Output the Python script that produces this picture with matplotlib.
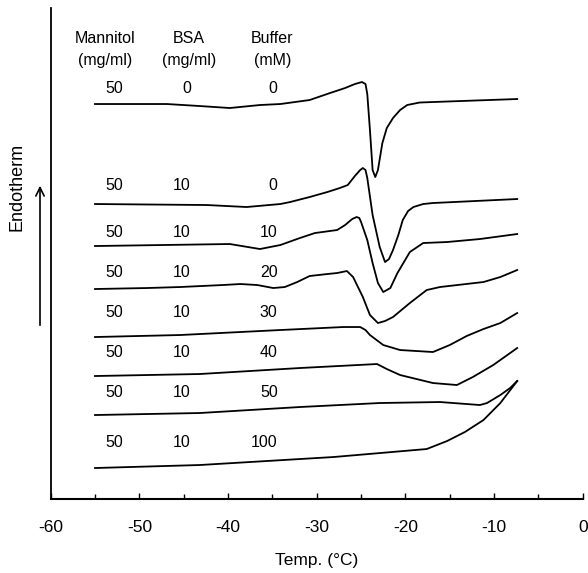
import matplotlib
matplotlib.use('Agg')
import matplotlib.pyplot as plt
from matplotlib.ticker import MultipleLocator

plt.rcParams['font.family'] = ['Liberation Sans', 'DejaVu Sans']
plt.rcParams['axes.unicode_minus'] = False

# Thermograms: temperature (°C) and heat flow (arbitrary units, stacked)
t1 = [-55.0, -46.9, -43.2, -39.8, -36.4, -34.1, -30.8, -28.5, -26.8, -25.7, -24.9, -24.5, -24.3,
      -24.0, -23.7, -23.4, -23.1, -22.6, -22.1, -21.4, -20.6, -19.8, -18.4, -16.9, -7.4]
h1 = [39.5, 39.5, 39.3, 39.1, 39.4, 39.5, 39.9, 40.6, 41.1, 41.5, 41.7, 41.5, 40.5,
      36.9, 32.9, 32.2, 32.9, 35.6, 37.1, 38.1, 38.9, 39.4, 39.65, 39.7, 40.0]

t2 = [-55.0, -42.4, -37.9, -34.1, -33.0, -30.8, -28.8, -27.4, -26.5, -25.7, -25.1, -24.8, -24.5, -24.3,
      -23.7, -22.9, -22.3, -21.85, -21.4, -20.8, -20.3, -19.7, -19.1, -18.0, -16.9, -7.4]
h2 = [29.5, 29.4, 29.2, 29.5, 29.7, 30.2, 30.7, 31.1, 31.4, 32.3, 32.9, 33.1, 32.9, 32.1,
      28.4, 25.2, 23.7, 24.0, 24.9, 26.4, 27.9, 28.8, 29.2, 29.5, 29.6, 30.0]

t3 = [-55.0, -39.8, -36.4, -34.1, -31.9, -30.2, -27.7, -26.8, -26.0, -25.5, -25.2, -25.0,
      -24.3, -23.7, -23.1, -22.5, -21.7, -20.9, -19.5, -18.0, -15.3, -11.6, -7.4]
h3 = [25.3, 25.5, 25.0, 25.4, 26.1, 26.6, 26.9, 27.4, 28.0, 28.2, 28.1, 27.7,
      25.9, 23.6, 21.6, 20.7, 21.1, 22.6, 24.7, 25.6, 25.7, 26.0, 26.5]

t4 = [-55.0, -49.1, -45.4, -40.6, -38.6, -36.7, -34.9, -33.6, -32.2, -30.8, -28.8, -27.7,
      -26.6, -25.9, -24.8, -24.0, -23.1, -22.3, -21.4, -19.5, -17.6, -16.1, -11.2, -9.3, -7.4]
h4 = [21.0, 21.1, 21.2, 21.4, 21.5, 21.4, 21.1, 21.2, 21.7, 22.3, 22.5, 22.6,
      22.8, 22.2, 20.2, 18.4, 17.6, 17.8, 18.2, 19.6, 20.9, 21.2, 21.7, 22.2, 22.9]

t5 = [-55.0, -45.4, -34.1, -27.0, -25.1, -24.5, -24.0, -22.5, -20.6, -16.9, -15.0, -13.1, -11.2, -9.3, -7.4]
h5 = [16.2, 16.4, 16.9, 17.2, 17.2, 16.9, 16.4, 15.4, 14.9, 14.7, 15.4, 16.3, 17.0, 17.6, 18.6]

t6 = [-55.0, -43.2, -31.9, -23.2, -22.1, -20.6, -16.9, -14.2, -12.4, -10.1, -7.4]
h6 = [12.3, 12.5, 13.1, 13.5, 13.0, 12.4, 11.6, 11.4, 12.2, 13.4, 15.1]

t7 = [-55.0, -43.2, -31.9, -22.9, -16.1, -11.6, -10.8, -9.3, -8.2, -7.4]
h7 = [8.4, 8.6, 9.2, 9.6, 9.7, 9.4, 9.6, 10.4, 11.1, 11.8]

t8 = [-55.0, -43.2, -28.1, -17.6, -15.3, -13.3, -11.2, -9.3, -7.4]
h8 = [3.1, 3.4, 4.2, 5.0, 5.8, 6.7, 7.9, 9.6, 11.8]

# sample composition for each curve (top to bottom)
mannitol = [50, 50, 50, 50, 50, 50, 50, 50]
bsa = [0, 10, 10, 10, 10, 10, 10, 10]
buffer = [0, 0, 10, 20, 30, 40, 50, 100]

curves = [(t1, h1), (t2, h2), (t3, h3), (t4, h4), (t5, h5), (t6, h6), (t7, h7), (t8, h8)]
label_y = [40.6, 30.9, 26.2, 22.2, 18.2, 14.2, 10.2, 5.2]

fig = plt.figure(figsize=(5.88, 5.73), dpi=100)
ax = fig.add_axes([0.0861, 0.1291, 0.9051, 0.8569])

for t, h in curves:
    ax.plot(t, h, color='black', linewidth=1.3, solid_joinstyle='round')

# column headers
for xc, head in [(-53.9, 'Mannitol\n(mg/ml)'), (-44.4, 'BSA\n(mg/ml)'), (-35.0, 'Buffer\n(mM)')]:
    ax.text(xc, 43.4, head, ha='center', va='baseline', fontsize=11.5, linespacing=1.6)

for i in range(len(mannitol)):
    ax.text(-51.8, label_y[i], str(mannitol[i]), ha='right', va='baseline', fontsize=11.5)
    ax.text(-44.2, label_y[i], str(bsa[i]), ha='right', va='baseline', fontsize=11.5)
    ax.text(-34.4, label_y[i], str(buffer[i]), ha='right', va='baseline', fontsize=11.5)

ax.set_xlim(-60, 0)
ax.set_ylim(0, 49.1)
ax.xaxis.set_major_locator(MultipleLocator(10))
ax.xaxis.set_minor_locator(MultipleLocator(5))
ax.tick_params(axis='x', which='major', direction='in', length=4.5, width=1, labelsize=12.5, pad=15)
ax.tick_params(axis='x', which='minor', direction='in', length=3.5, width=1)
ax.set_yticks([])
ax.spines['top'].set_visible(False)
ax.spines['right'].set_visible(False)
ax.spines['left'].set_linewidth(1.3)
ax.spines['bottom'].set_linewidth(1.5)
ax.set_xlabel('Temp. (°C)', fontsize=12.5, labelpad=13)

fig.text(17 / 588, 1 - 187 / 573, 'Endotherm', rotation=90, ha='center', va='center', fontsize=13)
ax.annotate('', xy=(40, 390), xytext=(40, 245), xycoords='figure pixels', textcoords='figure pixels',
            arrowprops=dict(arrowstyle='->,head_length=0.6,head_width=0.3', color='black', linewidth=1.2))

fig.savefig('out.png', dpi=100)
